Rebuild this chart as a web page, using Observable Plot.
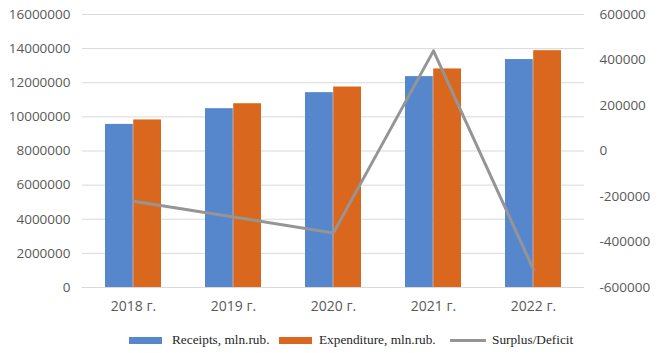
<!DOCTYPE html>
<html>
<head>
<meta charset="utf-8">
<script src="https://cdn.jsdelivr.net/npm/d3@7"></script>
<script src="https://cdn.jsdelivr.net/npm/@observablehq/plot@0.6"></script>
<style>
  html, body { margin: 0; padding: 0; background: #fff; }
  #chart { width: 662px; }
  .legend { position: relative; height: 20px;
    font-family: "Liberation Serif", "Times New Roman", serif; font-size: 13.3px; color: #262626; }
  .legend span { position: absolute; }
  .legend .txt { top: 0; line-height: 20px; white-space: nowrap; }
</style>
</head>
<body>
<div id="chart"></div>
<script>
const years = ["2018 г.", "2019 г.", "2020 г.", "2021 г.", "2022 г."];
const receipts = [9560000, 10480000, 11420000, 12360000, 13360000];
const expenditure = [9820000, 10770000, 11750000, 12810000, 13880000];
const surplus = [-221000, -290000, -360000, 440000, -521000];
const leftTicks = [0, 2000000, 4000000, 6000000, 8000000, 10000000, 12000000, 14000000, 16000000];
const rightTicks = [-600000, -400000, -200000, 0, 200000, 400000, 600000];

const seriesNames = ["Receipts, mln.rub.", "Expenditure, mln.rub.", "Surplus/Deficit"];
const colors = ["#5687CD", "#DA671E", "#959595"];

// map right-axis values onto the left y scale
const toLeft = v => (v + 600000) * 16000000 / 1200000;
const fromLeft = y => Math.round(y * 1200000 / 16000000 - 600000);

const rec = years.map((y, i) => ({year: y, value: receipts[i]}));
const exp = years.map((y, i) => ({year: y, value: expenditure[i]}));
const sur = years.map((y, i) => ({year: y, value: toLeft(surplus[i])}));

const font = "'Open Sans', sans-serif";

const plot = Plot.plot({
  width: 662,
  height: 330,
  marginLeft: 82,
  marginRight: 78,
  marginTop: 14,
  marginBottom: 43,
  style: {fontFamily: font, fontSize: "13.5px", color: "#595959", background: "#fff"},
  x: {domain: years, padding: 0, label: null},
  y: {domain: [0, 16000000], label: null},
  marks: [
    Plot.ruleY(leftTicks, {stroke: "#D9D9D9", strokeWidth: 1}),
    Plot.barY(rec, {x: "year", y: "value", fill: colors[0], insetLeft: 22, insetRight: 50.2}),
    Plot.barY(exp, {x: "year", y: "value", fill: colors[1], insetLeft: 50.2, insetRight: 22}),
    Plot.line(sur, {x: "year", y: "value", stroke: colors[2], strokeWidth: 3}),
    Plot.axisX({tickSize: 0, tickPadding: 14, fontSize: 14, label: null}),
    Plot.axisY(leftTicks, {anchor: "left", tickSize: 0, tickPadding: 12, tickFormat: d => String(d), label: null}),
    Plot.axisY(rightTicks.map(toLeft), {anchor: "right", tickSize: 0, tickPadding: 15, tickFormat: d => String(fromLeft(d)), label: null})
  ]
});

const chart = document.getElementById("chart");
chart.appendChild(plot);

const legend = document.createElement("div");
legend.className = "legend";
const swatches = [
  {left: 129, width: 33, height: 7},
  {left: 279, width: 33, height: 7},
  {left: 450, width: 36, height: 3}
];
const textLefts = [172, 319, 492];
seriesNames.forEach((name, i) => {
  const sw = document.createElement("span");
  const s = swatches[i];
  sw.style.left = s.left + "px";
  sw.style.width = s.width + "px";
  sw.style.height = s.height + "px";
  sw.style.top = (10 - s.height / 2) + "px";
  sw.style.background = colors[i];
  const t = document.createElement("span");
  t.className = "txt";
  t.style.left = textLefts[i] + "px";
  t.textContent = name;
  legend.appendChild(sw);
  legend.appendChild(t);
});
chart.appendChild(legend);
</script>
</body>
</html>
